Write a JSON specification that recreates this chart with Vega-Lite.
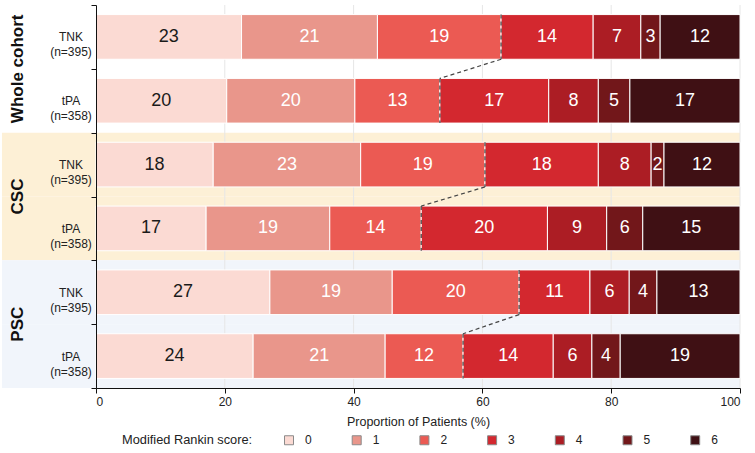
{
  "$schema": "https://vega.github.io/schema/vega-lite/v6.json",
  "width": 644,
  "height": 383,
  "autosize": {"type": "none"},
  "padding": {"left": 96, "top": 5, "right": 15, "bottom": 65},
  "config": {
    "font": "Liberation Sans",
    "view": {"stroke": null},
    "axis": {"domainColor": "#111", "tickColor": "#111", "labelColor": "#222", "titleColor": "#222"}
  },
  "datasets": {
    "bars": [
      {"row": "Whole cohort|TNK|(n=395)", "mrs": "0", "pct": 22.6},
      {"row": "Whole cohort|TNK|(n=395)", "mrs": "1", "pct": 21.1},
      {"row": "Whole cohort|TNK|(n=395)", "mrs": "2", "pct": 19.2},
      {"row": "Whole cohort|TNK|(n=395)", "mrs": "3", "pct": 14.3},
      {"row": "Whole cohort|TNK|(n=395)", "mrs": "4", "pct": 7.4},
      {"row": "Whole cohort|TNK|(n=395)", "mrs": "5", "pct": 3.0},
      {"row": "Whole cohort|TNK|(n=395)", "mrs": "6", "pct": 12.4},
      {"row": "Whole cohort|tPA|(n=358)", "mrs": "0", "pct": 20.3},
      {"row": "Whole cohort|tPA|(n=358)", "mrs": "1", "pct": 19.9},
      {"row": "Whole cohort|tPA|(n=358)", "mrs": "2", "pct": 13.2},
      {"row": "Whole cohort|tPA|(n=358)", "mrs": "3", "pct": 16.9},
      {"row": "Whole cohort|tPA|(n=358)", "mrs": "4", "pct": 7.7},
      {"row": "Whole cohort|tPA|(n=358)", "mrs": "5", "pct": 4.9},
      {"row": "Whole cohort|tPA|(n=358)", "mrs": "6", "pct": 17.1},
      {"row": "CSC|TNK|(n=395)", "mrs": "0", "pct": 18.2},
      {"row": "CSC|TNK|(n=395)", "mrs": "1", "pct": 22.9},
      {"row": "CSC|TNK|(n=395)", "mrs": "2", "pct": 19.3},
      {"row": "CSC|TNK|(n=395)", "mrs": "3", "pct": 17.6},
      {"row": "CSC|TNK|(n=395)", "mrs": "4", "pct": 8.2},
      {"row": "CSC|TNK|(n=395)", "mrs": "5", "pct": 2.0},
      {"row": "CSC|TNK|(n=395)", "mrs": "6", "pct": 11.8},
      {"row": "CSC|tPA|(n=358)", "mrs": "0", "pct": 17.1},
      {"row": "CSC|tPA|(n=358)", "mrs": "1", "pct": 19.2},
      {"row": "CSC|tPA|(n=358)", "mrs": "2", "pct": 14.2},
      {"row": "CSC|tPA|(n=358)", "mrs": "3", "pct": 19.6},
      {"row": "CSC|tPA|(n=358)", "mrs": "4", "pct": 9.2},
      {"row": "CSC|tPA|(n=358)", "mrs": "5", "pct": 5.6},
      {"row": "CSC|tPA|(n=358)", "mrs": "6", "pct": 15.1},
      {"row": "PSC|TNK|(n=395)", "mrs": "0", "pct": 27.0},
      {"row": "PSC|TNK|(n=395)", "mrs": "1", "pct": 19.0},
      {"row": "PSC|TNK|(n=395)", "mrs": "2", "pct": 19.7},
      {"row": "PSC|TNK|(n=395)", "mrs": "3", "pct": 11.0},
      {"row": "PSC|TNK|(n=395)", "mrs": "4", "pct": 6.1},
      {"row": "PSC|TNK|(n=395)", "mrs": "5", "pct": 4.3},
      {"row": "PSC|TNK|(n=395)", "mrs": "6", "pct": 12.9},
      {"row": "PSC|tPA|(n=358)", "mrs": "0", "pct": 24.4},
      {"row": "PSC|tPA|(n=358)", "mrs": "1", "pct": 20.5},
      {"row": "PSC|tPA|(n=358)", "mrs": "2", "pct": 12.1},
      {"row": "PSC|tPA|(n=358)", "mrs": "3", "pct": 14.0},
      {"row": "PSC|tPA|(n=358)", "mrs": "4", "pct": 6.0},
      {"row": "PSC|tPA|(n=358)", "mrs": "5", "pct": 4.4},
      {"row": "PSC|tPA|(n=358)", "mrs": "6", "pct": 18.6}
    ],
    "rows": [
      {"row": "Whole cohort|TNK|(n=395)", "group": "Whole cohort", "trt": "TNK"},
      {"row": "Whole cohort|tPA|(n=358)", "group": "Whole cohort", "trt": "tPA"},
      {"row": "CSC|TNK|(n=395)", "group": "CSC", "trt": "TNK"},
      {"row": "CSC|tPA|(n=358)", "group": "CSC", "trt": "tPA"},
      {"row": "PSC|TNK|(n=395)", "group": "PSC", "trt": "TNK"},
      {"row": "PSC|tPA|(n=358)", "group": "PSC", "trt": "tPA"}
    ],
    "vert": [
      {"row": "Whole cohort|TNK|(n=395)", "cum": 62.9},
      {"row": "Whole cohort|tPA|(n=358)", "cum": 53.4},
      {"row": "CSC|TNK|(n=395)", "cum": 60.4},
      {"row": "CSC|tPA|(n=358)", "cum": 50.5},
      {"row": "PSC|TNK|(n=395)", "cum": 65.7},
      {"row": "PSC|tPA|(n=358)", "cum": 57.0}
    ],
    "conn": [
      {"rowT": "Whole cohort|TNK|(n=395)", "rowP": "Whole cohort|tPA|(n=358)", "xT": 62.9, "xP": 53.4},
      {"rowT": "CSC|TNK|(n=395)", "rowP": "CSC|tPA|(n=358)", "xT": 60.4, "xP": 50.5},
      {"rowT": "PSC|TNK|(n=395)", "rowP": "PSC|tPA|(n=358)", "xT": 65.7, "xP": 57.0}
    ],
    "grid": [{"v": 20}, {"v": 40}, {"v": 60}, {"v": 80}, {"v": 100}]
  },
  "layer": [
    {
      "data": {"name": "rows"},
      "mark": {"type": "rect"},
      "encoding": {
        "x": {"datum": -14.6, "type": "quantitative", "scale": {"domain": [0, 100], "nice": false}, "title": "Proportion of Patients (%)",
          "axis": {"values": [0, 20, 40, 60, 80, 100], "tickSize": 5, "labelFontSize": 12, "labelPadding": 3, "titleFontSize": 12.5, "titleFontWeight": "normal", "titlePadding": 8, "grid": false}},
        "x2": {"datum": 100},
        "y": {"field": "row", "type": "nominal", "title": null,
          "scale": {"domain": ["Whole cohort|TNK|(n=395)", "Whole cohort|tPA|(n=358)", "CSC|TNK|(n=395)", "CSC|tPA|(n=358)", "PSC|TNK|(n=395)", "PSC|tPA|(n=358)"], "paddingInner": 0, "paddingOuter": 0},
          "axis": {"labelExpr": "slice(split(datum.value, '|'), 1)", "tickBand": "extent", "tickSize": 5, "labelAlign": "center", "labelPadding": 20.5, "labelFontSize": 12, "labelLineHeight": 15, "labelBaseline": "middle", "zindex": 1}},
        "fill": {"field": "group", "type": "nominal", "legend": null,
          "scale": {"domain": ["Whole cohort", "CSC", "PSC"], "range": ["#FFFFFF", "#FDF0D6", "#F1F5FB"]}}
      }
    },
    {
      "data": {"name": "grid"},
      "mark": {"type": "rule", "color": "#E6E6E6", "strokeWidth": 1},
      "encoding": {"x": {"field": "v", "type": "quantitative", "title": "Proportion of Patients (%)"}}
    },
    {
      "data": {"name": "bars"},
      "mark": {"type": "bar", "height": {"band": 0.7}, "stroke": "#FFFFFF", "strokeWidth": 1},
      "encoding": {
        "y": {"field": "row", "type": "nominal", "title": null},
        "x": {"field": "pct", "type": "quantitative", "stack": "zero", "title": "Proportion of Patients (%)"},
        "color": {"field": "mrs", "type": "nominal",
          "scale": {"domain": ["0", "1", "2", "3", "4", "5", "6"], "range": ["#FBDAD3", "#E9968B", "#EB5A53", "#D3282F", "#AC1D24", "#72171A", "#3F1014"]},
          "legend": {"orient": "none", "legendX": 26, "legendY": 429, "direction": "horizontal", "title": "Modified Rankin score:", "titleOrient": "left", "titleFontSize": 12.8, "titleFontWeight": "normal", "titleColor": "#222", "titlePadding": 30, "titleBaseline": "middle",
            "symbolType": "square", "symbolSize": 81, "symbolStrokeColor": "#8a8a8a", "symbolStrokeWidth": 1, "labelFontSize": 12, "labelColor": "#222", "labelOffset": 10, "columnPadding": 37.7}},
        "order": {"field": "mrs", "sort": "ascending"}
      }
    },
    {
      "data": {"name": "bars"},
      "mark": {"type": "text", "fontSize": 18, "align": "center", "baseline": "middle"},
      "encoding": {
        "y": {"field": "row", "type": "nominal", "title": null},
        "x": {"field": "pct", "type": "quantitative", "stack": "zero", "bandPosition": 0.5, "title": "Proportion of Patients (%)"},
        "detail": {"field": "mrs", "type": "nominal"},
        "order": {"field": "mrs", "sort": "ascending"},
        "text": {"field": "pct", "type": "quantitative", "format": ".0f"},
        "color": {"condition": {"test": "datum.mrs === '0'", "value": "#1a1a1a"}, "value": "#FFFFFF"}
      }
    },
    {
      "data": {"name": "vert"},
      "mark": {"type": "rule", "color": "#444", "strokeWidth": 1.2, "strokeDash": [4, 3]},
      "encoding": {
        "x": {"field": "cum", "type": "quantitative", "title": "Proportion of Patients (%)"},
        "y": {"field": "row", "type": "nominal", "bandPosition": 0.15, "title": null},
        "y2": {"field": "row", "bandPosition": 0.85}
      }
    },
    {
      "data": {"name": "conn"},
      "mark": {"type": "rule", "color": "#444", "strokeWidth": 1.2, "strokeDash": [4, 3]},
      "encoding": {
        "x": {"field": "xT", "type": "quantitative", "title": "Proportion of Patients (%)"},
        "x2": {"field": "xP"},
        "y": {"field": "rowT", "type": "nominal", "bandPosition": 0.85, "title": null},
        "y2": {"field": "rowP", "bandPosition": 0.15}
      }
    },
    {
      "data": {"name": "rows"},
      "transform": [{"filter": "datum.trt === 'TNK'"}],
      "mark": {"type": "text", "angle": 270, "fontSize": 17, "fontWeight": "bold", "align": "center", "baseline": "middle", "color": "#111"},
      "encoding": {
        "x": {"datum": -12.1, "type": "quantitative"},
        "y": {"field": "row", "type": "nominal", "bandPosition": 1, "title": null},
        "text": {"field": "group"}
      }
    }
  ]
}
